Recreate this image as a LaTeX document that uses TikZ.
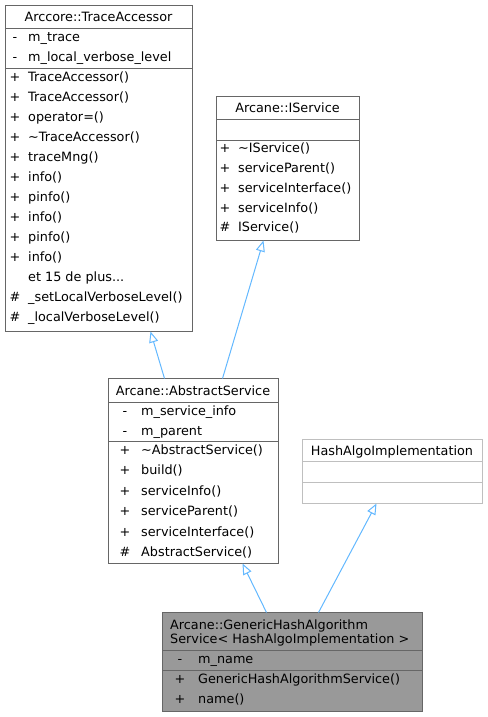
\documentclass[tikz,border=0pt]{standalone}
\usepackage{fontspec}
\setmainfont{DejaVu Sans}
\usetikzlibrary{arrows.meta,calc}
\definecolor{edgeblue}{HTML}{63B8FF}
\definecolor{boxgray}{HTML}{666666}
\definecolor{palegrayline}{HTML}{BFBFBF}
\definecolor{fillgray}{HTML}{999999}
\begin{document}
\begin{tikzpicture}[x=1pt,y=-1pt,
  font=\fontsize{12.8}{14}\selectfont,
  cls/.style={draw=boxgray, line width=1pt, anchor=north west, inner sep=0pt, outer sep=0pt},
  sepline/.style={draw=boxgray, line width=1pt},
  txt/.style={anchor=base west, inner sep=0pt},
  ttl/.style={anchor=base, inner sep=0pt},
  sym/.style={anchor=base, inner sep=0pt},
  inh/.style={draw=edgeblue, line width=1pt, -{Triangle[open,length=11pt,width=9pt,fill=white]}}]
\useasboundingbox (0,0) rectangle (487,717);

% ---------- Arrcore::TraceAccessor ----------
\node[cls, minimum width=187pt, minimum height=326pt] (ta) at (5.5,5.5) {};
\draw[sepline] (5.5,28.5) -- (192.5,28.5);
\draw[sepline] (5.5,68.5) -- (192.5,68.5);
\node[ttl] (ta-t) at (98.5,21.5) {Arccore::TraceAccessor};
\node[sym] (ta-s1) at (15,41.5) {-};
\node[txt] (ta-a1) at (28,41.5) {m\_trace};
\node[sym] (ta-s2) at (15,61.5) {-};
\node[txt] (ta-a2) at (28,61.5) {m\_local\_verbose\_level};
\node[sym] (ta-p1) at (15,81.5) {+};
\node[txt] (ta-m1) at (28,81.5) {TraceAccessor()};
\node[sym] (ta-p2) at (15,101.5) {+};
\node[txt] (ta-m2) at (28,101.5) {TraceAccessor()};
\node[sym] (ta-p3) at (15,121.5) {+};
\node[txt] (ta-m3) at (28,121.5) {operator=()};
\node[sym] (ta-p4) at (15,141.5) {+};
\node[txt] (ta-m4) at (28,141.5) {\textasciitilde TraceAccessor()};
\node[sym] (ta-p5) at (15,161.5) {+};
\node[txt] (ta-m5) at (28,161.5) {traceMng()};
\node[sym] (ta-p6) at (15,181.5) {+};
\node[txt] (ta-m6) at (28,181.5) {info()};
\node[sym] (ta-p7) at (15,201.5) {+};
\node[txt] (ta-m7) at (28,201.5) {pinfo()};
\node[sym] (ta-p8) at (15,221.5) {+};
\node[txt] (ta-m8) at (28,221.5) {info()};
\node[sym] (ta-p9) at (15,241.5) {+};
\node[txt] (ta-m9) at (28,241.5) {pinfo()};
\node[sym] (ta-p10) at (15,261.5) {+};
\node[txt] (ta-m10) at (28,261.5) {info()};
\node[txt] (ta-more) at (28,281.5) {et 15 de plus...};
\node[sym] (ta-h1) at (15,301.5) {\#};
\node[txt] (ta-m11) at (28,301.5) {\_setLocalVerboseLevel()};
\node[sym] (ta-h2) at (15,321.5) {\#};
\node[txt] (ta-m12) at (28,321.5) {\_localVerboseLevel()};

% ---------- Arcane::IService ----------
\node[cls, minimum width=143pt, minimum height=144pt] (is) at (216.5,96.5) {};
\draw[sepline] (216.5,119.5) -- (359.5,119.5);
\draw[sepline] (216.5,140.5) -- (359.5,140.5);
\node[ttl] (is-t) at (287.5,112.5) {Arcane::IService};
\node[sym] (is-p1) at (225,152.5) {+};
\node[txt] (is-m1) at (238,152.5) {\textasciitilde IService()};
\node[sym] (is-p2) at (225,172.5) {+};
\node[txt] (is-m2) at (238,172.5) {serviceParent()};
\node[sym] (is-p3) at (225,192.5) {+};
\node[txt] (is-m3) at (238,192.5) {serviceInterface()};
\node[sym] (is-p4) at (225,212.5) {+};
\node[txt] (is-m4) at (238,212.5) {serviceInfo()};
\node[sym] (is-h1) at (225,231.5) {\#};
\node[txt] (is-m5) at (238,231.5) {IService()};

% ---------- Arcane::AbstractService ----------
\node[cls, minimum width=170pt, minimum height=185pt] (as) at (108.5,378.5) {};
\draw[sepline] (108.5,402.5) -- (278.5,402.5);
\draw[sepline] (108.5,441.5) -- (278.5,441.5);
\node[ttl] (as-t) at (193,395.5) {Arcane::AbstractService};
\node[sym] (as-s1) at (125,415.5) {-};
\node[txt] (as-a1) at (141,415.5) {m\_service\_info};
\node[sym] (as-s2) at (125,435.5) {-};
\node[txt] (as-a2) at (141,435.5) {m\_parent};
\node[sym] (as-p1) at (125,454.5) {+};
\node[txt] (as-m1) at (141,454.5) {\textasciitilde AbstractService()};
\node[sym] (as-p2) at (125,474.9) {+};
\node[txt] (as-m2) at (141,474.9) {build()};
\node[sym] (as-p3) at (125,495.3) {+};
\node[txt] (as-m3) at (141,495.3) {serviceInfo()};
\node[sym] (as-p4) at (125,515.7) {+};
\node[txt] (as-m4) at (141,515.7) {serviceParent()};
\node[sym] (as-p5) at (125,536.1) {+};
\node[txt] (as-m5) at (141,536.1) {serviceInterface()};
\node[sym] (as-h1) at (125,556.5) {\#};
\node[txt] (as-m6) at (141,556.5) {AbstractService()};

% ---------- HashAlgoImplementation ----------
\node[cls, draw=palegrayline, minimum width=180pt, minimum height=64pt] (ha) at (302.5,439.5) {};
\draw[draw=palegrayline, line width=1pt] (302.5,461.5) -- (482.5,461.5);
\draw[draw=palegrayline, line width=1pt] (302.5,482.5) -- (482.5,482.5);
\node[ttl] (ha-t) at (392,455.5) {HashAlgoImplementation};

% ---------- Arcane::GenericHashAlgorithmService ----------
\node[cls, fill=fillgray, minimum width=260pt, minimum height=99pt] (gh) at (162.5,612.5) {};
\draw[sepline] (162.5,650.5) -- (422.5,650.5);
\draw[sepline] (162.5,670.5) -- (422.5,670.5);
\node[txt] (gh-t1) at (170,629.5) {Arcane::GenericHashAlgorithm};
\node[txt] (gh-t2) at (170,643.5) {Service< HashAlgoImplementation >};
\node[sym] (gh-s1) at (180,663.5) {-};
\node[txt] (gh-a1) at (198,663.5) {m\_name};
\node[sym] (gh-p1) at (180,683.5) {+};
\node[txt] (gh-m1) at (198,683.5) {GenericHashAlgorithmService()};
\node[sym] (gh-p2) at (180,703.5) {+};
\node[txt] (gh-m2) at (198,703.5) {name()};

% ---------- inheritance connectors ----------
\coordinate (as-up1) at ($(as.north west)+(56,0)$);
\coordinate (as-up2) at ($(as.north west)+(114,0)$);
\coordinate (ta-bot) at ($(ta.south west)+(145,0)$);
\coordinate (is-bot) at ($(is.south west)+(47,0)$);
\coordinate (gh-up1) at ($(gh.north west)+(104,0)$);
\coordinate (gh-up2) at ($(gh.north west)+(156,0)$);
\coordinate (as-bot) at ($(as.south west)+(134,0)$);
\coordinate (ha-bot) at ($(ha.south west)+(74,0)$);
\draw[inh] (as-up1) -- (ta-bot);
\draw[inh] (as-up2) -- (is-bot);
\draw[inh] (gh-up1) -- (as-bot);
\draw[inh] (gh-up2) -- (ha-bot);
\end{tikzpicture}
\end{document}
